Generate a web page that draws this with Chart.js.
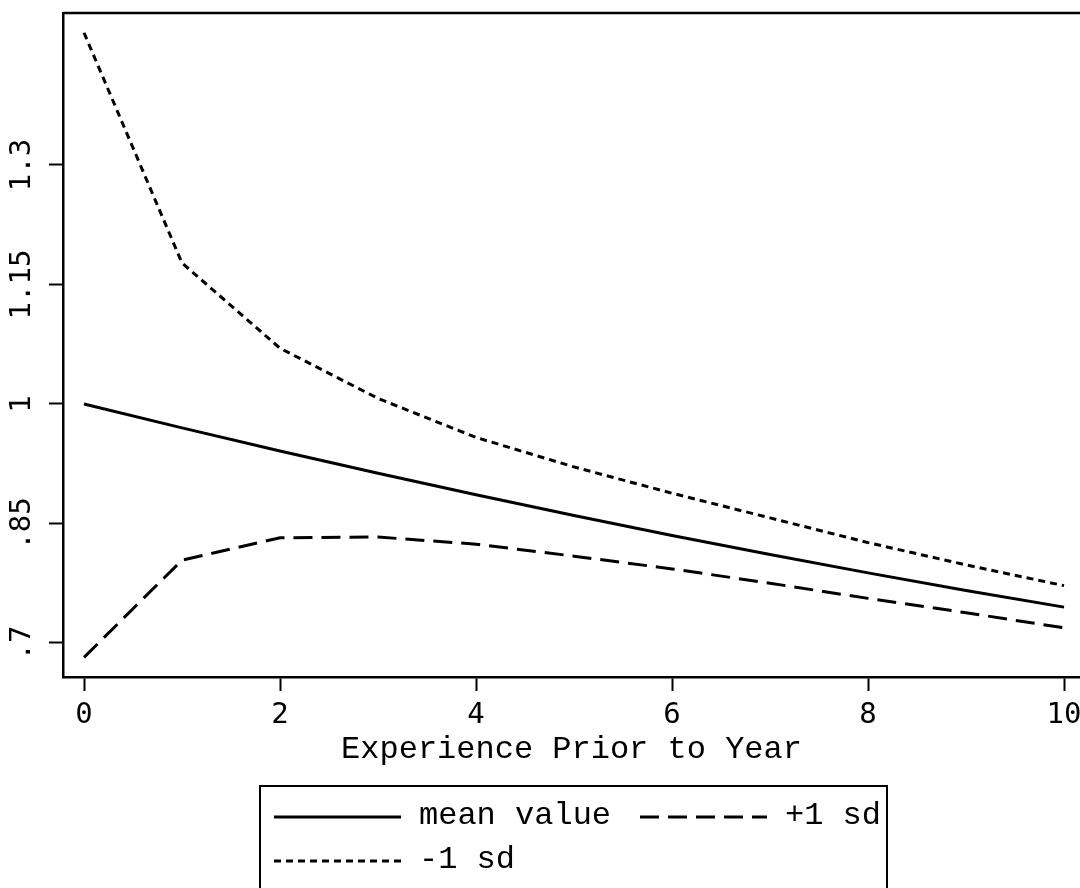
<!DOCTYPE html>
<html>
<head>
<meta charset="utf-8">
<script src="https://cdn.jsdelivr.net/npm/chart.js@4"></script>
<style>
  html, body { margin: 0; padding: 0; background: #fff; }
  canvas { display: block; }
</style>
</head>
<body>
<canvas id="chart" width="1080" height="888"></canvas>
<script>
// data
const experience = [0, 1, 2, 3, 4, 5, 6, 7, 8, 9, 10];
const meanValue  = [1.000, 0.970, 0.941, 0.913, 0.886, 0.860, 0.835, 0.811, 0.788, 0.766, 0.745];
const plusOneSd  = [0.682, 0.804, 0.832, 0.833, 0.824, 0.809, 0.793, 0.775, 0.756, 0.738, 0.719];
const minusOneSd = [1.466, 1.177, 1.070, 1.007, 0.958, 0.921, 0.888, 0.857, 0.826, 0.798, 0.772];

const xTicks = [0, 2, 4, 6, 8, 10];
const yTicks = [0.7, 0.85, 1, 1.15, 1.3];
const yTickLabels = ['.7', '.85', '1', '1.15', '1.3'];

const seriesNames = ['mean value', '+1 sd', '-1 sd'];

const toPoints = vals => experience.map((x, i) => ({ x: x, y: vals[i] }));

const monoTick  = { family: '"DejaVu Sans Mono", monospace', size: 29 };
const monoTitle = { family: '"Liberation Mono", "DejaVu Sans Mono", monospace', size: 32 };

// frame line on top + legend box below the axis title
const framePlugin = {
  id: 'frame',
  afterDraw(chart) {
    const ctx = chart.ctx;
    const area = chart.chartArea;
    ctx.save();
    ctx.strokeStyle = '#000';
    ctx.lineWidth = 2.5;
    ctx.beginPath();
    ctx.moveTo(area.left, area.top);
    ctx.lineTo(chart.width, area.top);
    ctx.stroke();

    // legend box
    ctx.lineWidth = 2;
    ctx.strokeRect(260, 786, 627, 140);

    const ds = chart.data.datasets;
    const rows = [
      { i: 0, x: 274, y: 817 },
      { i: 1, x: 640, y: 817 },
      { i: 2, x: 274, y: 861 }
    ];
    ctx.font = `${monoTitle.size}px ${monoTitle.family}`;
    ctx.textBaseline = 'middle';
    ctx.fillStyle = '#000';
    rows.forEach(r => {
      const d = ds[r.i];
      ctx.save();
      ctx.lineWidth = d.borderWidth;
      ctx.setLineDash(d.borderDash || []);
      ctx.beginPath();
      ctx.moveTo(r.x, r.y);
      ctx.lineTo(r.x + 127, r.y);
      ctx.stroke();
      ctx.restore();
      ctx.fillText(d.label, r.x + 145, r.y - 1);
    });
    ctx.restore();
  }
};

new Chart(document.getElementById('chart'), {
  type: 'line',
  data: {
    datasets: [
      {
        label: seriesNames[0],
        data: toPoints(meanValue),
        borderColor: '#000',
        borderWidth: 3,
        pointRadius: 0,
        tension: 0
      },
      {
        label: seriesNames[1],
        data: toPoints(plusOneSd),
        borderColor: '#000',
        borderWidth: 3,
        borderDash: [19, 9],
        pointRadius: 0,
        tension: 0
      },
      {
        label: seriesNames[2],
        data: toPoints(minusOneSd),
        borderColor: '#000',
        borderWidth: 3,
        borderDash: [7, 5],
        pointRadius: 0,
        tension: 0
      }
    ]
  },
  options: {
    responsive: false,
    animation: false,
    layout: { padding: { top: 13, left: 0, right: 0, bottom: 0 } },
    plugins: {
      legend: { display: false },
      tooltip: { enabled: false }
    },
    scales: {
      x: {
        type: 'linear',
        min: -0.2143,
        max: 10.163,
        afterBuildTicks: scale => { scale.ticks = xTicks.map(v => ({ value: v })); },
        afterFit: scale => {
          scale.height = 211;
          scale.paddingLeft = 0;
          scale.paddingRight = 0;
        },
        border: { display: true, color: '#000', width: 2.5 },
        grid: {
          display: true,
          drawOnChartArea: false,
          drawTicks: true,
          tickLength: 14,
          tickWidth: 2,
          tickColor: '#000'
        },
        ticks: {
          color: '#000',
          font: monoTick,
          padding: 7,
          maxRotation: 0,
          callback: v => String(v)
        },
        title: {
          display: true,
          text: 'Experience Prior to Year',
          color: '#000',
          font: monoTitle,
          padding: { top: 0, bottom: 119 }
        }
      },
      y: {
        min: 0.6573,
        max: 1.4908,
        afterBuildTicks: scale => { scale.ticks = yTicks.map(v => ({ value: v })); },
        afterFit: scale => {
          scale.width = 63;
          scale.paddingTop = 0;
          scale.paddingBottom = 0;
        },
        border: { display: true, color: '#000', width: 2.5 },
        grid: {
          display: true,
          drawOnChartArea: false,
          drawTicks: true,
          tickLength: 14,
          tickWidth: 2,
          tickColor: '#000'
        },
        ticks: {
          color: '#000',
          font: monoTick,
          minRotation: 90,
          maxRotation: 90,
          crossAlign: 'center',
          padding: -8.4,
          callback: (v, i) => yTickLabels[yTicks.findIndex(t => Math.abs(t - v) < 1e-6)]
        }
      }
    }
  },
  plugins: [framePlugin]
});
</script>
</body>
</html>
